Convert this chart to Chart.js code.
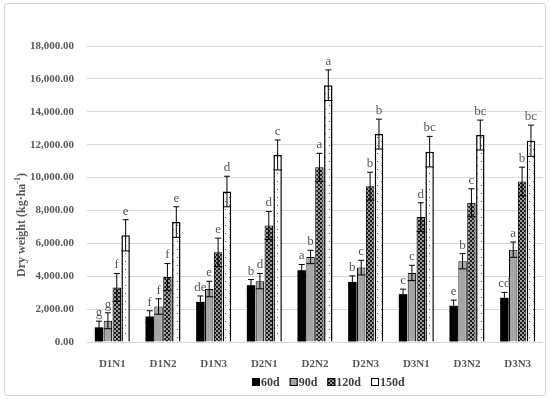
<!DOCTYPE html>
<html>
<head>
<meta charset="utf-8">
<script src="https://cdn.jsdelivr.net/npm/chart.js@4.4.0/dist/chart.umd.min.js"></script>
<style>
  html, body { margin: 0; padding: 0; background: #fff; }
  #wrap { position: relative; width: 550px; height: 399px; }
  #frame { position: absolute; left: 4px; top: 3px; width: 540px; height: 391px; border: 1px solid #d4d4d4; border-radius: 3px; pointer-events: none; }
  canvas { position: absolute; left: 0; top: 0; }
</style>
</head>
<body>
<div id="wrap">
  <canvas id="chart" width="550" height="399"></canvas>
  <div id="frame"></div>
</div>
<script>
// data
const categories = ['D1N1', 'D1N2', 'D1N3', 'D2N1', 'D2N2', 'D2N3', 'D3N1', 'D3N2', 'D3N3'];
const seriesNames = ['60d', '90d', '120d', '150d'];
const yTicks = [0, 2000, 4000, 6000, 8000, 10000, 12000, 14000, 16000, 18000];

const d60 = [890, 1550, 2440, 3455, 4365, 3655, 2910, 2200, 2690];
const d90 = [1290, 2160, 3220, 3700, 5170, 4525, 4200, 4910, 5615];
const d120 = [3315, 3960, 5455, 7090, 10625, 9475, 7595, 8465, 9760];
const d150 = [6485, 7295, 9150, 11375, 15615, 12645, 11575, 12585, 12240];

const e60 = [380, 350, 360, 340, 345, 365, 305, 345, 325];
const e90 = [485, 470, 470, 465, 405, 445, 465, 465, 465];
const e120 = [850, 810, 860, 850, 850, 850, 870, 850, 870];
const e150 = [950, 930, 930, 910, 930, 910, 930, 910, 950];

const l60 = ['g', 'f', 'de', 'b', 'a', 'b', 'c', 'e', 'cd'];
const l90 = ['g', 'f', 'e', 'd', 'b', 'c', 'c', 'b', 'a'];
const l120 = ['f', 'f', 'e', 'd', 'a', 'b', 'd', 'c', 'b'];
const l150 = ['e', 'e', 'd', 'c', 'a', 'b', 'bc', 'bc', 'bc'];

const errs = [e60, e90, e120, e150];
const letters = [l60, l90, l120, l150];

const serif = "'Liberation Serif', 'Times New Roman', serif";
const grayText = '#595959';

// fill patterns
function makePattern(size, draw) {
    const c = document.createElement('canvas');
    c.width = size; c.height = size;
    const g = c.getContext('2d');
    draw(g);
    return g.createPattern(c, 'repeat');
}
const checkPattern = makePattern(4, function (g) {
    g.fillStyle = '#1e1e1e';
    g.fillRect(0, 0, 4, 4);
    g.fillStyle = '#9a9a9a';
    g.fillRect(0, 0, 2, 2);
    g.fillRect(2, 2, 2, 2);
});
const dotPattern = makePattern(8, function (g) {
    g.fillStyle = '#ffffff';
    g.fillRect(0, 0, 8, 8);
    g.fillStyle = '#555';
    g.fillRect(1, 1, 1, 1);
    g.fillRect(5, 5, 1, 1);
});

const fills = ['#000000', '#a6a6a6', checkPattern, dotPattern];
const borders = [0, 1, 1, 1.5];
const legendFills = ['#000000', '#a6a6a6', checkPattern, '#ffffff'];

// error bars + letters
const errorBars = {
    id: 'errorBars',
    afterDatasetsDraw(chart) {
        const ctx = chart.ctx;
        const y = chart.scales.y;
        ctx.save();
        chart.data.datasets.forEach(function (ds, di) {
            const meta = chart.getDatasetMeta(di);
            meta.data.forEach(function (bar, i) {
                const v = ds.data[i];
                const e = errs[di][i];
                const top = y.getPixelForValue(v + e);
                const low = y.getPixelForValue(v - e);
                const x = bar.x;
                const w = bar.width;
                ctx.strokeStyle = '#000';
                ctx.lineWidth = 1;
                ctx.beginPath();
                ctx.moveTo(x, top);
                ctx.lineTo(x, low);
                ctx.moveTo(x - 3, top);
                ctx.lineTo(x + 3, top);
                ctx.moveTo(x - w / 2, low);
                ctx.lineTo(x + w / 2, low);
                ctx.stroke();

                ctx.fillStyle = grayText;
                ctx.font = '13px ' + serif;
                ctx.textAlign = 'center';
                ctx.textBaseline = 'bottom';
                ctx.fillText(letters[di][i], x, top - 2);
            });
        });
        ctx.restore();
    }
};

// axis title and legend
const extras = {
    id: 'extras',
    afterDraw(chart) {
        const ctx = chart.ctx;
        ctx.save();
        // y title
        ctx.translate(22, 225);
        ctx.rotate(-Math.PI / 2);
        ctx.fillStyle = grayText;
        ctx.textBaseline = 'middle';
        const big = 'bold 12px ' + serif;
        const small = 'bold 8px ' + serif;
        const p1 = 'Dry weight (kg\u00b7ha', p2 = '-1', p3 = ')';
        ctx.font = big; const w1 = ctx.measureText(p1).width; const w3 = ctx.measureText(p3).width;
        ctx.font = small; const w2 = ctx.measureText(p2).width;
        let x = -(w1 + w2 + w3) / 2;
        ctx.textAlign = 'left';
        ctx.font = big; ctx.fillText(p1, x, 0); x += w1;
        ctx.font = small; ctx.fillText(p2, x, -4); x += w2;
        ctx.font = big; ctx.fillText(p3, x, 0);
        ctx.restore();

        // legend
        ctx.save();
        ctx.font = 'bold 12px ' + serif;
        ctx.textBaseline = 'middle';
        ctx.textAlign = 'left';
        let lx = 252;
        const ly = 382;
        seriesNames.forEach(function (name, i) {
            ctx.fillStyle = legendFills[i];
            ctx.fillRect(lx, ly - 4, 8, 8);
            ctx.strokeStyle = '#000';
            ctx.lineWidth = 1;
            ctx.strokeRect(lx + 0.5, ly - 3.5, 7, 7);
            ctx.fillStyle = '#404040';
            ctx.fillText(name, lx + 9, ly + 1);
            lx += 9 + ctx.measureText(name).width + 10;
        });
        ctx.restore();
    }
};

const datasets = [d60, d90, d120, d150].map(function (vals, i) {
    return {
        label: seriesNames[i],
        data: vals,
        backgroundColor: fills[i],
        borderColor: '#000',
        borderWidth: borders[i],
        borderSkipped: 'bottom',
        categoryPercentage: 0.7,
        barPercentage: 0.95
    };
});

new Chart(document.getElementById('chart'), {
    type: 'bar',
    data: { labels: categories, datasets: datasets },
    plugins: [errorBars, extras],
    options: {
        responsive: false,
        animation: false,
        layout: { padding: { left: 0, right: 7, top: 46, bottom: 0 } },
        plugins: { legend: { display: false }, tooltip: { enabled: false } },
        scales: {
            x: {
                grid: { display: false },
                border: { display: false },
                ticks: { color: grayText, font: { family: serif, size: 11, weight: 'bold' }, padding: 8 },
                afterFit(s) { s.height = 57; }
            },
            y: {
                min: 0,
                max: 18000,
                afterBuildTicks(s) { s.ticks = yTicks.map(function (v) { return { value: v }; }); },
                grid: { color: '#d9d9d9', drawTicks: false },
                border: { display: false },
                ticks: {
                    color: grayText,
                    font: { family: serif, size: 11, weight: 'bold' },
                    padding: 13,
                    callback: function (v) { return Number(v).toLocaleString('en-US', { minimumFractionDigits: 2, maximumFractionDigits: 2 }); }
                },
                afterFit(s) { s.width = 87; }
            }
        }
    }
});
</script>
</body>
</html>
